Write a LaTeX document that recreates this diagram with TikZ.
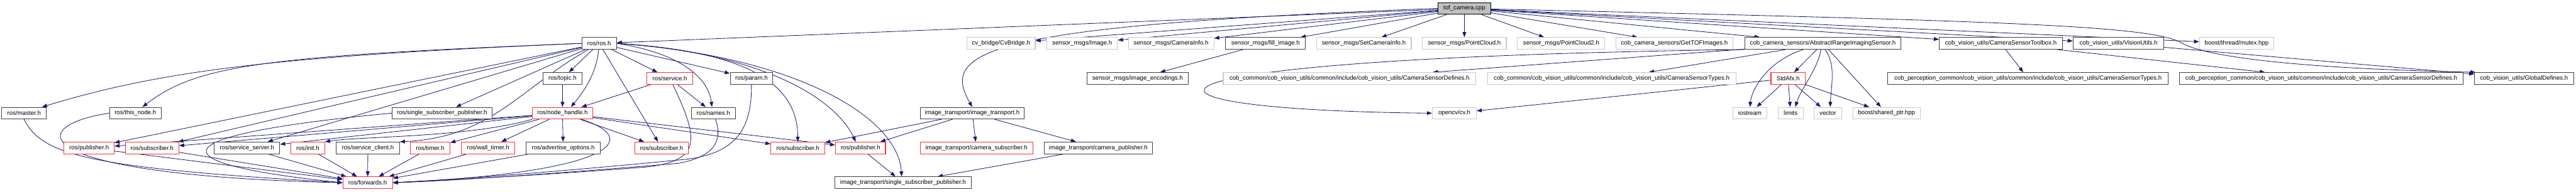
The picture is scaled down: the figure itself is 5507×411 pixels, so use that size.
\documentclass[tikz,border=0pt]{standalone}
\usepackage{fontspec}
\setmainfont{Liberation Sans}
\usetikzlibrary{arrows.meta,backgrounds}
\definecolor{edgeblue}{HTML}{191970}
\definecolor{boxred}{HTML}{FF3030}
\definecolor{boxgray}{HTML}{C8C8C8}
\definecolor{rootfill}{HTML}{BFBFBF}
\definecolor{boxblack}{HTML}{404040}

\begin{document}
\begin{tikzpicture}[
    x=1pt, y=-1pt,
    every node/.style={font=\fontsize{13}{15}\selectfont, inner sep=0pt, minimum height=25},
    hdr/.style={draw=boxblack, line width=1.4pt, fill=white},
    hdrred/.style={draw=boxred, line width=1.4pt, fill=white},
    hdrgray/.style={draw=boxgray, line width=1.4pt, fill=white},
    root/.style={draw=black, line width=1.4pt, fill=rootfill},
    dep/.style={draw=edgeblue, line width=1.1pt, -{Triangle[length=11pt,width=8pt]}}
  ]
  \useasboundingbox (0,0) rectangle (5507,411);

  % ---- rang 0 : le fichier source ---------------------------------------
  \node[root, minimum width=113] (tof) at (3130.5,18) {tof\_camera.cpp};

  % ---- rang 1 -------------------------------------------------------------
  \node[hdr,     minimum width=74]  (ros)      at (1281,93)   {ros/ros.h};
  \node[hdrgray, minimum width=146] (cvbridge) at (2140,93)   {cv\_bridge/CvBridge.h};
  \node[hdrgray, minimum width=151] (image)    at (2313.5,93) {sensor\_msgs/Image.h};
  \node[hdrgray, minimum width=183] (caminfo)  at (2503.5,93) {sensor\_msgs/CameraInfo.h};
  \node[hdr,     minimum width=171] (fillimg)  at (2705.5,93) {sensor\_msgs/fill\_image.h};
  \node[hdrgray, minimum width=203] (setcam)   at (2915.5,93) {sensor\_msgs/SetCameraInfo.h};
  \node[hdrgray, minimum width=179] (pcl)      at (3130.5,93) {sensor\_msgs/PointCloud.h};
  \node[hdrgray, minimum width=187] (pcltwo)   at (3337.5,93) {sensor\_msgs/PointCloud2.h};
  \node[hdrgray, minimum width=251] (gettof)   at (3579.5,93) {cob\_camera\_sensors/GetTOFImages.h};
  \node[hdr,     minimum width=334] (arsensor) at (3897,93)   {cob\_camera\_sensors/AbstractRangeImagingSensor.h};
  \node[hdr,     minimum width=263] (toolbox)  at (4277.5,93) {cob\_vision\_utils/CameraSensorToolbox.h};
  \node[hdr,     minimum width=194] (visutils) at (4529,93)   {cob\_vision\_utils/VisionUtils.h};
  \node[hdrgray, minimum width=159] (mutex)    at (4781.5,93) {boost/thread/mutex.hpp};

  % ---- rang 2 -------------------------------------------------------------
  \node[hdr,     minimum width=83]  (topic)    at (1202.5,168) {ros/topic.h};
  \node[hdrred,  minimum width=98]  (service)  at (1432,168)   {ros/service.h};
  \node[hdr,     minimum width=91]  (param)    at (1606.5,168) {ros/param.h};
  \node[hdr,     minimum width=216] (imgenc)   at (2432,168)   {sensor\_msgs/image\_encodings.h};
  \node[hdrgray, minimum width=540] (cdefs)    at (2885,168)   {cob\_common/cob\_vision\_utils/common/include/cob\_vision\_utils/CameraSensorDefines.h};
  \node[hdrgray, minimum width=531] (ctypes)   at (3445.5,168) {cob\_common/cob\_vision\_utils/common/include/cob\_vision\_utils/CameraSensorTypes.h};
  \node[hdrred,  minimum width=73]  (stdafx)   at (3822.5,168) {StdAfx.h};
  \node[hdr,     minimum width=599] (ptypes)   at (4335.5,168) {cob\_perception\_common/cob\_vision\_utils/common/include/cob\_vision\_utils/CameraSensorTypes.h};
  \node[hdr,     minimum width=607] (pdefs)    at (4962.5,168) {cob\_perception\_common/cob\_vision\_utils/common/include/cob\_vision\_utils/CameraSensorDefines.h};
  \node[hdr,     minimum width=212] (globdefs) at (5396,168)   {cob\_vision\_utils/GlobalDefines.h};

  % ---- rang 3 -------------------------------------------------------------
  \node[hdr,     minimum width=95]  (master)     at (51.5,242.5)   {ros/master.h};
  \node[hdr,     minimum width=111] (thisnode)   at (289.5,242.5)  {ros/this\_node.h};
  \node[hdr,     minimum width=214] (ssp)        at (945,242.5)    {ros/single\_subscriber\_publisher.h};
  \node[hdrred,  minimum width=129] (nodehandle) at (1202.5,242.5) {ros/node\_handle.h};
  \node[hdr,     minimum width=94]  (names)      at (1525,242.5)   {ros/names.h};
  \node[hdr,     minimum width=223] (imgtrans)   at (2078.5,242.5) {image\_transport/image\_transport.h};
  \node[hdrgray, minimum width=94]  (opencv)     at (3109,242.5)   {opencv/cv.h};
  \node[hdrgray, minimum width=72]  (iostream)   at (3741,242.5)   {iostream};
  \node[hdrgray, minimum width=54]  (limits)     at (3828,242.5)   {limits};
  \node[hdrgray, minimum width=59]  (vector)     at (3907.5,242.5) {vector};
  \node[hdrgray, minimum width=144] (sharedptr)  at (4033,242.5)   {boost/shared\_ptr.hpp};

  % ---- rang 4 -------------------------------------------------------------
  \node[hdrred, minimum width=107] (puba)      at (190.5,317)  {ros/publisher.h};
  \node[hdrred, minimum width=114] (suba)      at (325,317)    {ros/subscriber.h};
  \node[hdr,    minimum width=140] (srvserver) at (528,317)    {ros/service\_server.h};
  \node[hdrred, minimum width=72]  (init)      at (658,317)    {ros/init.h};
  \node[hdr,    minimum width=135] (srvclient) at (786.5,317)  {ros/service\_client.h};
  \node[hdrred, minimum width=85]  (timer)     at (919.5,317)  {ros/timer.h};
  \node[hdrred, minimum width=115] (walltimer) at (1043.5,317) {ros/wall\_timer.h};
  \node[hdr,    minimum width=158] (advopts)   at (1204,317)   {ros/advertise\_options.h};
  \node[hdrred, minimum width=115] (subc)      at (1414.5,317) {ros/subscriber.h};
  \node[hdrred, minimum width=115] (subb)      at (1705.5,317) {ros/subscriber.h};
  \node[hdrred, minimum width=107] (pubb)      at (1839.5,317) {ros/publisher.h};
  \node[hdrred, minimum width=241] (camsub)    at (2087.5,317) {image\_transport/camera\_subscriber.h};
  \node[hdr,    minimum width=232] (campub)    at (2348,317)   {image\_transport/camera\_publisher.h};

  % ---- rang 5 -------------------------------------------------------------
  \node[hdrred, minimum width=106] (forwards) at (786,391.5)  {ros/forwards.h};
  \node[hdr,    minimum width=291] (itssp)    at (1930.5,391.5) {image\_transport/single\_subscriber\_publisher.h};

  \begin{scope}[on background layer]
  % ---- inclusions directes du fichier source ------------------------------
  \draw[dep] (tof) -- (ros);
  \draw[dep] (tof.west) .. controls (2100,55) and (2010,110) .. (imgtrans.north);
  \draw[dep] (tof) -- (cvbridge);
  \draw[dep] (tof) -- (image);
  \draw[dep] (tof) -- (caminfo);
  \draw[dep] (tof) -- (fillimg);
  \draw[dep] (tof) -- (setcam);
  \draw[dep] (tof) -- (pcl);
  \draw[dep] (tof) -- (pcltwo);
  \draw[dep] (tof) -- (gettof);
  \draw[dep] (tof) -- (arsensor);
  \draw[dep] (tof) -- (toolbox);
  \draw[dep] (tof) -- (visutils);
  \draw[dep] (tof) -- (mutex);
  \draw[dep] (tof) .. controls (4300,45) and (4600,55) .. (4664,92)
             .. controls (4720,125) and (4950,148) .. ([xshift=3]globdefs.north west);

  % ---- cote cob (droite) ---------------------------------------------------
  \draw[dep] (fillimg) -- (imgenc);
  \draw[dep] (arsensor.south west) .. controls (2330,125) and (2330,235) .. (opencv.west);
  \draw[dep] (arsensor) -- (cdefs);
  \draw[dep] (arsensor) -- (ctypes);
  \draw[dep] (arsensor) -- (stdafx);
  \draw[dep] ([xshift=-42]arsensor.south) .. controls (3780,130) and (3745,190) .. (iostream.north);
  \draw[dep] ([xshift=-4]arsensor.south) .. controls (3885,150) and (3850,190) .. ([xshift=10]limits.north);
  \draw[dep] ([xshift=5]arsensor.south) .. controls (3925,140) and (3915,180) .. ([xshift=5]vector.north);
  \draw[dep] (arsensor) -- (sharedptr);
  \draw[dep] (stdafx) -- (iostream);
  \draw[dep] (stdafx) -- (limits);
  \draw[dep] (stdafx) -- (vector);
  \draw[dep] (stdafx) -- (sharedptr);
  \draw[dep] (stdafx) -- (opencv);
  \draw[dep] (toolbox) -- (ptypes);
  \draw[dep] (toolbox) -- (pdefs);
  \draw[dep] (visutils) -- (globdefs);

  % ---- image_transport -----------------------------------------------------
  \draw[dep] (imgtrans) -- (subb);
  \draw[dep] (imgtrans) -- (pubb);
  \draw[dep] (imgtrans) -- (camsub);
  \draw[dep] (imgtrans) -- (campub);
  \draw[dep] (campub) -- (itssp);
  \draw[dep] (pubb) -- (itssp);

  % ---- ros/ros.h -----------------------------------------------------------
  \draw[dep] (ros.west) .. controls (600,120) and (350,150) .. ([xshift=-10]master.north east);
  \draw[dep] (ros.west) .. controls (560,120) and (420,140) .. ([xshift=15]thisnode.north);
  \draw[dep] (ros) -- (puba);
  \draw[dep] (ros) -- (suba);
  \draw[dep] (ros) -- (srvserver);
  \draw[dep] (ros) -- (ssp);
  \draw[dep] (ros) .. controls (1110,190) and (1050,295) .. (srvclient.north east);
  \draw[dep] (ros) -- (topic);
  \draw[dep] (ros) .. controls (1275,160) and (1245,200) .. ([xshift=18]nodehandle.north);
  \draw[dep] (ros) -- (service);
  \draw[dep] (ros) -- (subc);
  \draw[dep] (ros) -- (param);
  \draw[dep] (ros.east) .. controls (1460,115) and (1515,170) .. ([xshift=-3]names.north);
  \draw[dep] (ros.east) .. controls (1600,110) and (1705,180) .. (subb.north);
  \draw[dep] (ros.east) .. controls (1650,115) and (1790,220) .. ([xshift=-10]pubb.north);
  \draw[dep] (ros.east) .. controls (1700,120) and (1920,250) .. ([xshift=-3]itssp.north);

  % ---- ros/topic.h, ros/service.h, ros/node_handle.h -----------------------
  \draw[dep] (topic) -- (nodehandle);
  \draw[dep] (service) -- (nodehandle);
  \draw[dep] (service) -- (names);
  \draw[dep] (nodehandle) -- (puba);
  \draw[dep] (nodehandle) -- (suba);
  \draw[dep] (nodehandle) -- (srvserver);
  \draw[dep] (nodehandle.south west) .. controls (1000,295) and (770,292) .. (init.north east);
  \draw[dep] (nodehandle) -- (timer);
  \draw[dep] (nodehandle) -- (walltimer);
  \draw[dep] (nodehandle) -- (advopts);
  \draw[dep] (nodehandle) -- (subc);
  \draw[dep] (nodehandle) -- (subb);
  \draw[dep] (nodehandle) -- (pubb);

  % ---- tout finit dans ros/forwards.h --------------------------------------
  \draw[dep] (master.south) .. controls (90,335) and (200,360) .. (forwards.west);
  \draw[dep] (thisnode.west) .. controls (50,270) and (50,375) .. (forwards.west);
  \draw[dep] (ssp.west) .. controls (330,290) and (330,350) .. (forwards.west);
  \draw[dep] (puba) -- (forwards);
  \draw[dep] (suba) -- (forwards);
  \draw[dep] (srvserver) -- (forwards);
  \draw[dep] (init) -- (forwards);
  \draw[dep] (srvclient) -- (forwards);
  \draw[dep] (timer) -- (forwards);
  \draw[dep] (walltimer) -- (forwards);
  \draw[dep] (advopts) -- (forwards);
  \draw[dep] (nodehandle) .. controls (1380,300) and (1300,370) .. (forwards.east);
  \draw[dep] (service) .. controls (1495,300) and (1500,345) .. (1380,358)
             .. controls (1100,380) and (900,388) .. (forwards.east);
  \draw[dep] (names) .. controls (1545,300) and (1530,335) .. (1450,350)
             .. controls (1150,375) and (950,388) .. (forwards.east);
  \draw[dep] (param.south) .. controls (1607,270) and (1580,330) .. (1460,342)
             .. controls (1150,372) and (950,386) .. (forwards.east);
  \end{scope}

\end{tikzpicture}
\end{document}
